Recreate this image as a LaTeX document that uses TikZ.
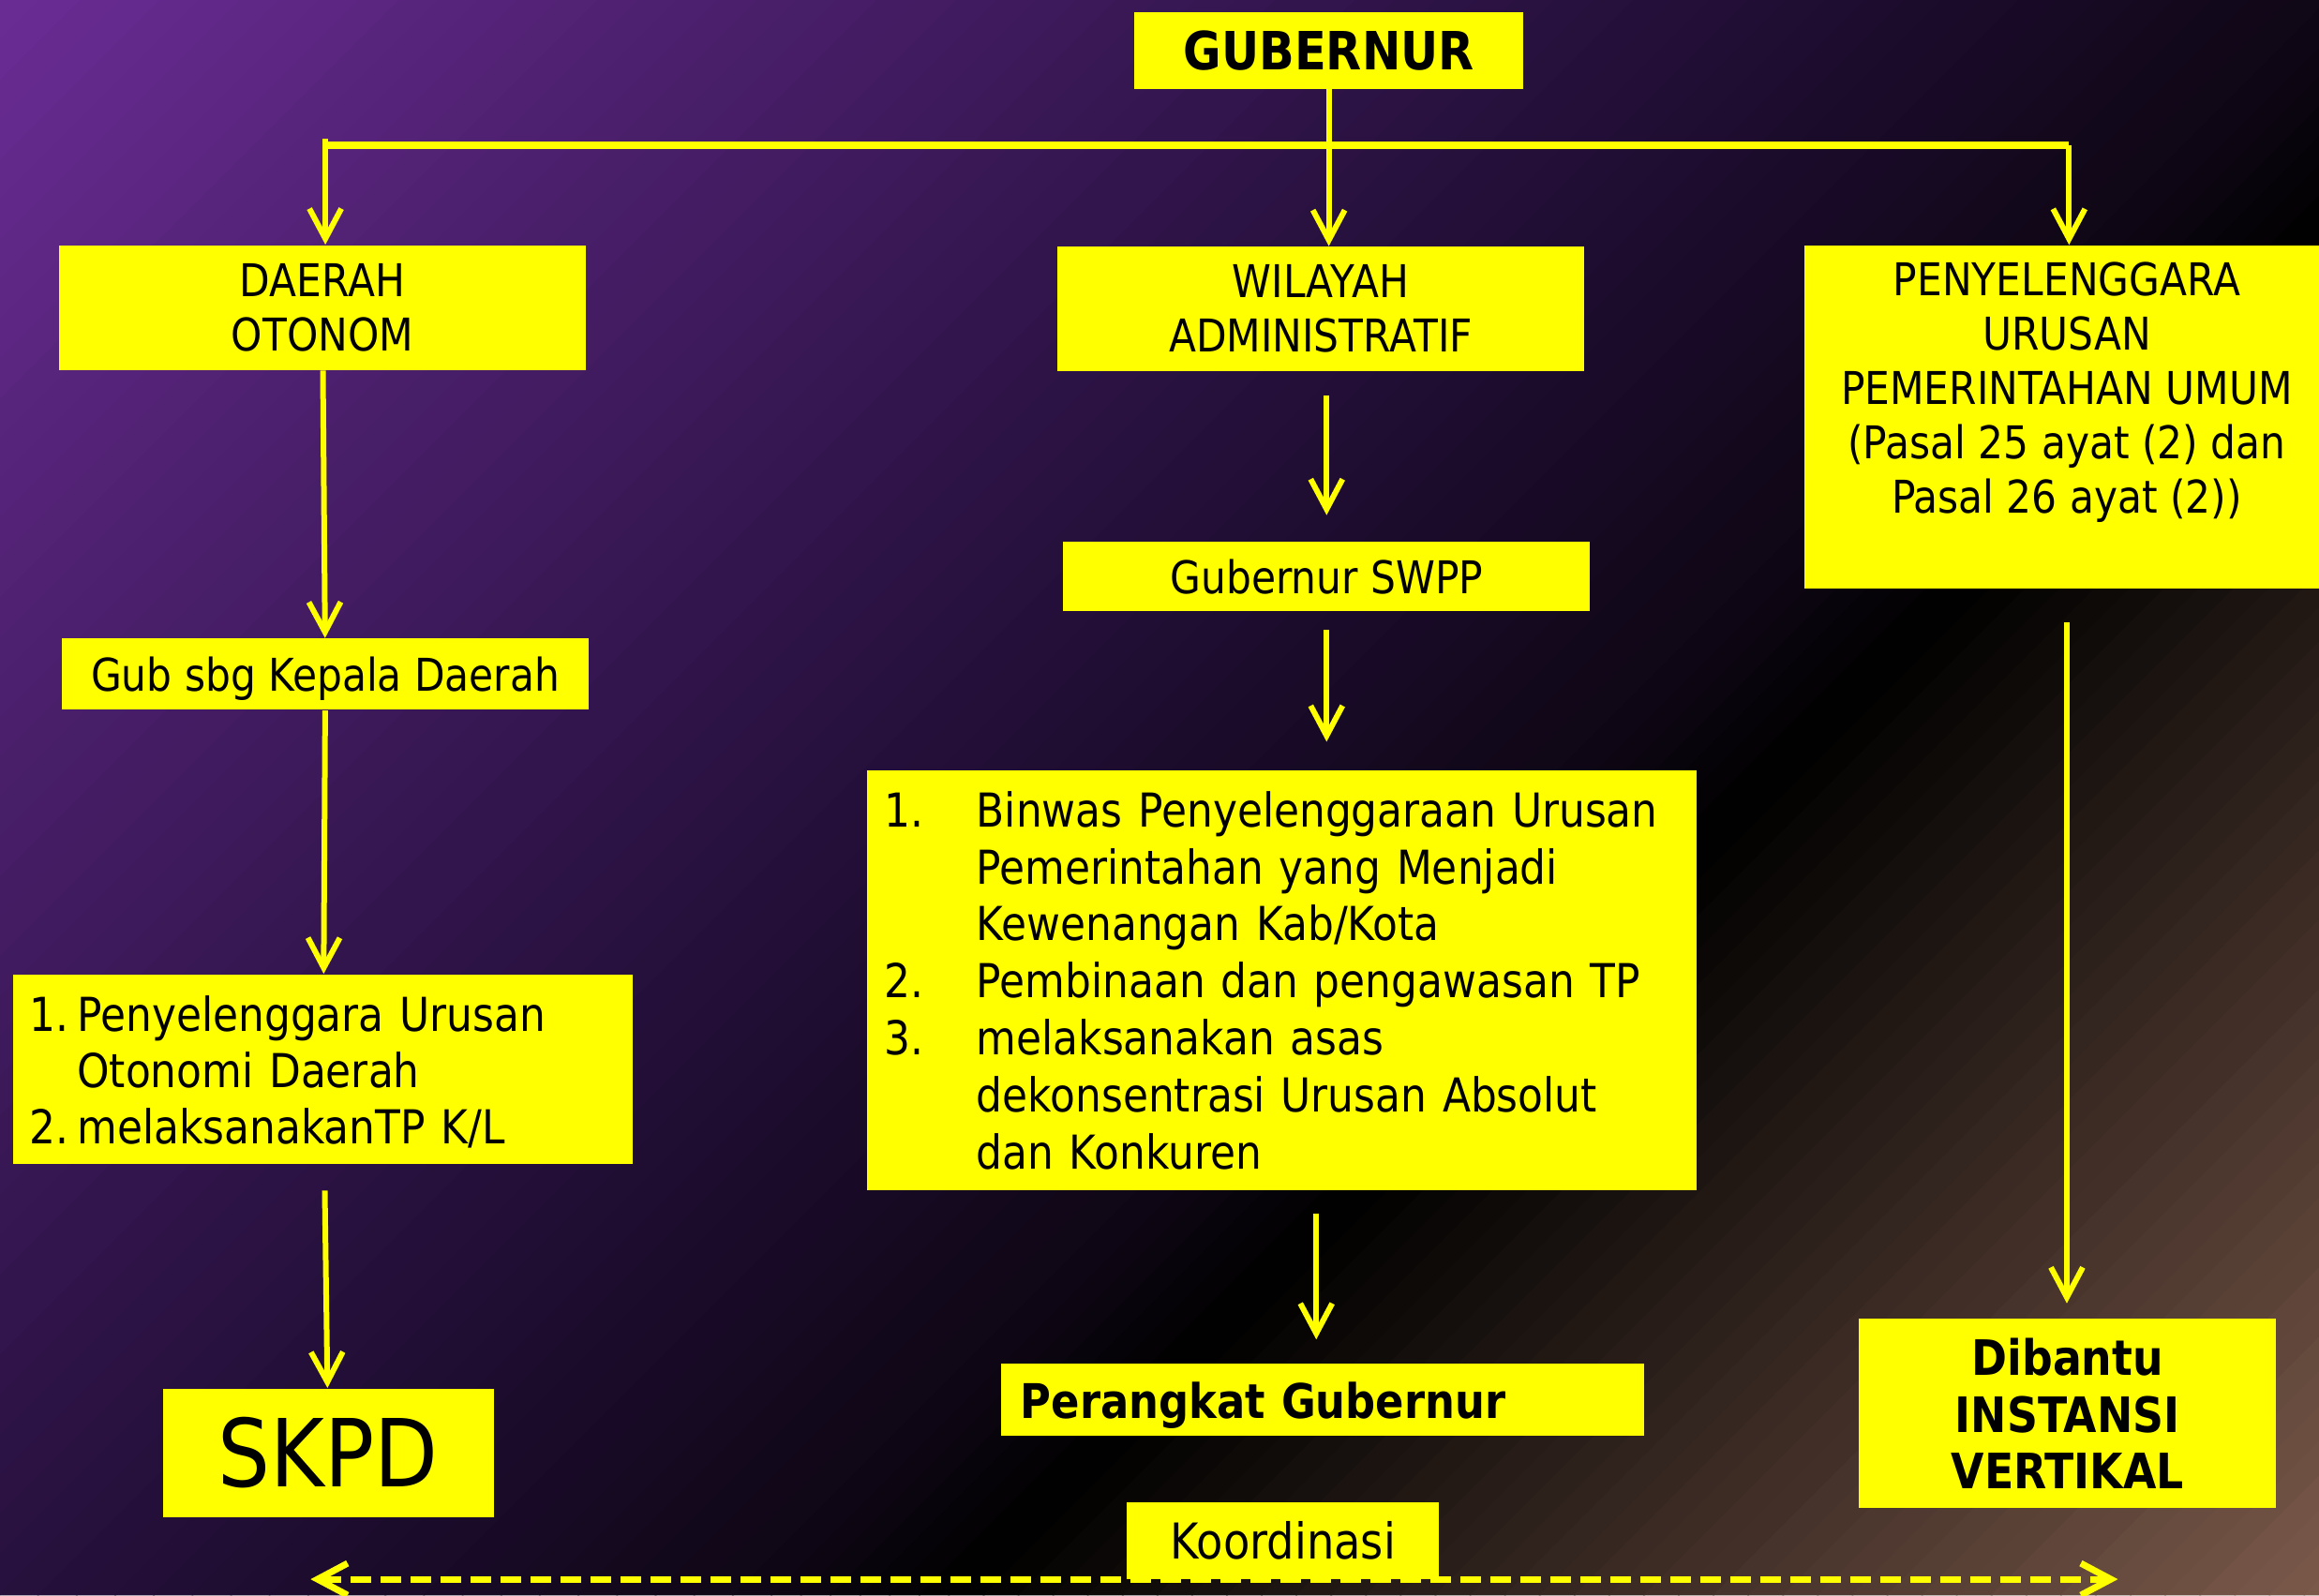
\documentclass[tikz,border=0pt]{standalone}
\usepackage{fontspec}
\setmainfont{DejaVu Sans}[FakeStretch=0.88]
\usetikzlibrary{arrows.meta}
\definecolor{bgA}{RGB}{106,44,148}
\definecolor{bgB}{RGB}{38,16,61}
\definecolor{bgC}{RGB}{14,6,20}
\definecolor{bgD}{RGB}{0,0,0}
\definecolor{bgE}{RGB}{125,91,76}
\definecolor{boxyel}{RGB}{255,255,0}
\begin{document}
\begin{tikzpicture}
[x=0.1578mm,y=-0.1578mm,>={Straight Barb[length=3.2mm,width=3.4mm]},
box/.style={fill=boxyel,inner sep=0pt,align=center,font=\fontsize{13.7}{16.5}\selectfont},
bold/.style={font=\bfseries\fontsize{14.5}{17}\selectfont},
conn/.style={draw=boxyel,line width=0.6mm,->},]

\useasboundingbox (0,0) rectangle (1568,1079);
% background
\begin{scope}
\clip (0,0) rectangle (1568,1079);
\foreach \ua/\ub/\ca/\cb/\n in {0/1078/bgA/bgB/40,1078/1600/bgB/bgC/20,1600/1720/bgC/bgD/6,1720/2660/bgD/bgE/40}{
  \foreach \k in {1,...,\n}{
    \pgfmathsetmacro{\uu}{\ua+(\ub-\ua)/\n*(\k-1)}
    \pgfmathsetmacro{\uv}{\ua+(\ub-\ua)/\n*\k+1}
    \pgfmathtruncatemacro{\pc}{100/\n*(\k-0.5)}
    \fill[fill=\cb!\pc!\ca] (\uu,0) -- (\uv,0) -- (\uv-1079,1079) -- (\uu-1079,1079) -- cycle;
  }
}
\end{scope}

\node[box,minimum width=41.5mm,minimum height=8.2mm,font=\bfseries\fontsize{16}{19}\selectfont] (gub) at (898.5,34) {GUBERNUR};
\node[box,minimum width=56.2mm,minimum height=13.3mm] (daerah) at (218,208) {DAERAH\\OTONOM};
\node[box,minimum width=56.2mm,minimum height=13.3mm] (wilayah) at (893,209) {WILAYAH\\ADMINISTRATIF};
\node[box,minimum width=56mm,minimum height=36.6mm,text depth=6.3mm] (penyel) at (1397.5,282) {PENYELENGGARA\\URUSAN\\PEMERINTAHAN UMUM\\(Pasal 25 ayat (2) dan\\Pasal 26 ayat (2))};
\node[box,minimum width=56.2mm,minimum height=7.6mm,text depth=0.4pt] (gubkd) at (220,456) {Gub sbg Kepala Daerah};
\node[box,minimum width=66.1mm,minimum height=20.2mm,inner xsep=1.75mm,text width=62.6mm,align=left,font=\fontsize{14.2}{17}\selectfont] (listL) at (218.5,723) {\begin{tabular}{@{}p{5.05mm}@{}l@{}}
\rule{0pt}{5.78mm}1. & Penyelenggara Urusan\\
   & Otonomi Daerah\\
2. & melaksanakanTP K/L
\end{tabular}};
\node[box,minimum width=35.3mm,minimum height=13.7mm,font=\fontsize{28.5}{32}\selectfont] (skpd) at (222,982.5) {SKPD};
\node[box,minimum width=56.2mm,minimum height=7.4mm] (swpp) at (897,390) {Gubernur SWPP};
\node[box,minimum width=88.5mm,minimum height=44.8mm,inner xsep=1.9mm,text width=84.7mm,align=left,font=\fontsize{14.2}{17.3}\selectfont] (binwas) at (866.5,663) {\begin{tabular}{@{}p{9.8mm}@{}l@{}}
\rule{0pt}{5.53mm}1. & Binwas Penyelenggaraan Urusan\\
   & Pemerintahan yang Menjadi\\
   & Kewenangan Kab/Kota\\
2. & Pembinaan dan pengawasan TP\\
3. & melaksanakan asas\\
   & dekonsentrasi Urusan Absolut\\
   & dan Konkuren
\end{tabular}};
\node[box,bold,minimum width=68.6mm,minimum height=7.7mm,inner xsep=2.05mm,text width=64.5mm,align=left,text height=11.6pt,text depth=0pt] (perangkat) at (894.5,946.5) {Perangkat Gubernur};
\node[box,bold,minimum width=44.5mm,minimum height=20.2mm,font=\bfseries\fontsize{14.8}{17.3}\selectfont] (dibantu) at (1398,956) {Dibantu\\INSTANSI\\VERTIKAL};
\node[box,minimum width=33.3mm,minimum height=8.2mm,font=\fontsize{15}{17}\selectfont] (koord) at (867.5,1042) {Koordinasi};

\coordinate (barL) at (220,94);
\coordinate (barR) at (1399,98);
\draw[draw=boxyel,line width=0.8mm] (barL |- barR) -- (barR);
\draw[conn] (gub.south) -- (gub.south |- wilayah.north);
\draw[conn] (barL) -- (barL |- daerah.north);
\draw[conn] (barR) -- (barR |- penyel.north);
\draw[conn] (daerah) -- (gubkd);
\draw[conn] (gubkd) -- (listL);
\draw[conn,shorten <=2.8mm] (listL) -- (skpd);
\draw[conn,shorten <=2.5mm,shorten >=2.8mm] (wilayah.south -| swpp) -- (swpp.north);
\draw[conn,shorten <=1.9mm,shorten >=3mm] (swpp.south) -- (swpp.south |- binwas.north);
\draw[conn,shorten <=2.4mm,shorten >=2.5mm] (binwas.south -| 890,0) -- (perangkat.north -| 890,0);
\draw[conn,shorten <=3.5mm,shorten >=1.6mm] (penyel.south) -- (penyel.south |- dibantu.north);

\coordinate (kooL) at (210,1068);
\coordinate (kooR) at (1432,1068);
\draw[<->,draw=boxyel,line width=0.7mm,dash pattern=on 2.2mm off 1mm] (kooL) -- (kooR);
\end{tikzpicture}
\end{document}
